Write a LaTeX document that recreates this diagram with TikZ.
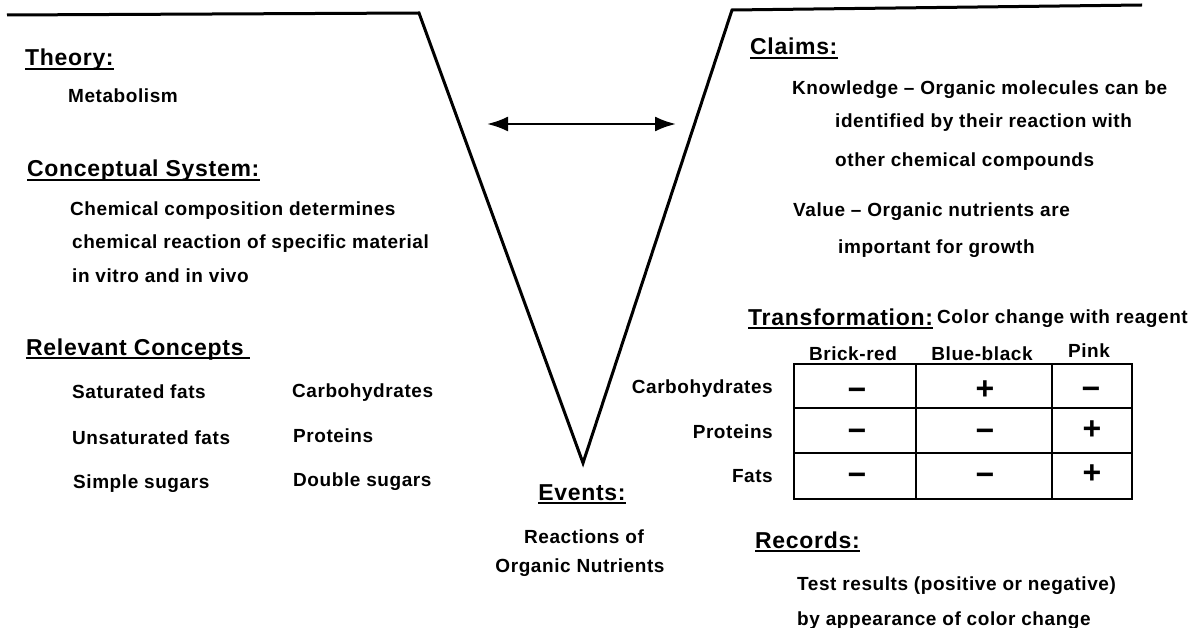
\documentclass[tikz,border=0pt]{standalone}
\usepackage{fontspec}
\setmainfont{Liberation Sans}[LetterSpace=3]
\usetikzlibrary{arrows.meta}
\newcommand{\txtfont}{\fontsize{19}{22}\selectfont\bfseries}
\newcommand{\hdfont}{\fontsize{23}{27}\selectfont\bfseries}
\newcommand{\sgnfont}{\fontsize{32}{36}\selectfont\bfseries}
\tikzset{
  txt/.style={anchor=base west, inner sep=0pt, font=\txtfont},
  head/.style={anchor=base west, inner sep=0pt, font=\hdfont},
  uline/.style={line width=2.5pt},
  vee/.style={line width=3pt, line join=miter},
  tbl/.style={line width=2.5pt},
  sign/.style={anchor=base, inner sep=0pt, font=\sgnfont}
}
\begin{document}
\begin{tikzpicture}[x=1pt,y=-1pt]
\useasboundingbox (0,0) rectangle (1198,628);

% the vee
\draw[vee] (7,15) -- (419,13) -- (583,463) -- (732,10) -- (1142,5);
\coordinate (arrL) at (487,124);
\coordinate (arrR) at (676,124);
\draw[line width=2.5pt, {Latex[length=21pt,width=15pt]}-{Latex[length=21pt,width=15pt]}] (arrL) -- (arrR);

% left side
\node[head] (theory) at (25,66) {Theory:};
\node[txt] (metab) at (68,103) {Metabolism};
\node[head] (concsys) at (27,177) {Conceptual System:};
\node[txt] (chem1) at (70,215) {Chemical composition determines};
\node[txt] (chem2) at (72,248) {chemical reaction of specific material};
\node[txt] (chem3) at (72,282) {in vitro and in vivo};
\node[head] (relev) at (26,355) {Relevant Concepts};
\node[txt] (satf) at (72,398) {Saturated fats};
\node[txt] (unsf) at (72,444) {Unsaturated fats};
\node[txt] (simps) at (73,488) {Simple sugars};
\node[txt] (carbo) at (292,397) {Carbohydrates};
\node[txt] (prot) at (293,442) {Proteins};
\node[txt] (dbls) at (293,486) {Double sugars};

% bottom of the vee
\node[head, anchor=base] (events) at (582,500) {Events:};
\node[txt, anchor=base] (react1) at (584,543) {Reactions of};
\node[txt, anchor=base] (react2) at (580,572) {Organic Nutrients};

% right side
\node[head] (claims) at (750,55) {Claims:};
\node[txt] (know1) at (792,95) {Knowledge -- Organic molecules can be};
\node[txt] (know2) at (835,128) {identified by their reaction with};
\node[txt] (know3) at (835,167) {other chemical compounds};
\node[txt] (val1) at (793,217) {Value -- Organic nutrients are};
\node[txt] (val2) at (838,253) {important for growth};
\node[head] (transf) at (748,325) {Transformation:};
\node[txt] (colch) at (937,323) {Color change with reagent};

% table
\node[txt, anchor=base] (brick) at (853,360) {Brick-red};
\node[txt, anchor=base] (blueb) at (982,360) {Blue-black};
\node[txt, anchor=base] (pink) at (1089,357) {Pink};
\node[txt, anchor=base east] (rcarb) at (773,393) {Carbohydrates};
\node[txt, anchor=base east] (rprot) at (773,438) {Proteins};
\node[txt, anchor=base east] (rfats) at (773,482) {Fats};
\draw[tbl] (794,364) rectangle (1132,499);
\draw[tbl] (794,408) -- (1132,408);
\draw[tbl] (794,453) -- (1132,453);
\draw[tbl] (916,364) -- (916,499);
\draw[tbl] (1052,364) -- (1052,499);
\node[sign] (s11) at (857,400) {−};
\node[sign] (s12) at (985,399) {+};
\node[sign] (s13) at (1091,399) {−};
\node[sign] (s21) at (857,441) {−};
\node[sign] (s22) at (985,441) {−};
\node[sign] (s23) at (1092,439) {+};
\node[sign] (s31) at (857,485) {−};
\node[sign] (s32) at (985,485) {−};
\node[sign] (s33) at (1092,483) {+};

\node[head] (records) at (755,548) {Records:};
\node[txt] (test1) at (797,590) {Test results (positive or negative)};
\node[txt] (test2) at (797,625) {by appearance of color change};

% underlines
\foreach \h in {theory,concsys,claims,transf,events,records}
  \draw[uline] ([yshift=-3pt]\h.base west) -- ([yshift=-3pt]\h.base east);
\draw[uline] ([yshift=-3pt]relev.base west) -- ([xshift=6pt,yshift=-3pt]relev.base east);
\end{tikzpicture}
\end{document}
